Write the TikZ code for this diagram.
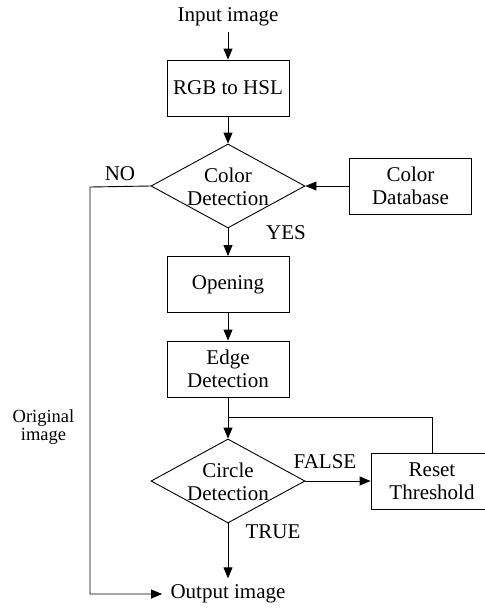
\documentclass[tikz,border=0pt]{standalone}
\usepackage{fontspec}
\setmainfont{Liberation Serif}
\usetikzlibrary{shapes.geometric,arrows.meta}
\newcommand{\flowfont}  {\fontsize{21}{23}\selectfont}
\newcommand{\sidefont}  {\fontsize{18.5}{16}\selectfont}

\begin{document}
\begin{tikzpicture}[x=1pt,y=-1pt,line width=0.9pt,
   every node/.style={font=\flowfont},
   block/.style={draw,minimum width=122pt,minimum height=56pt,align=center,inner sep=0pt},
   decision/.style={draw,diamond,minimum width=154pt,minimum height=84pt,inner sep=0pt},
   flow/.style={-{Triangle[length=11pt,width=9pt]}}]
   \useasboundingbox (0,0) rectangle (485,611);
   % main column
   \node[inner sep=5pt] (input) at (228,17) {Input image};
   \node[block] (rgb) at (228,88) {RGB to HSL};
   \node[decision] (cd) at (228,186) {};
   \node[align=center] (cdtext) at (228,187) {Color\\Detection};
   \node[block] (db) at (410.5,186) {Color\\Database};
   \node[block] (open) at (228,284.5) {Opening};
   \node[block] (edge) at (228,369) {Edge\\Detection};
   \coordinate (junc) at (228,417);
   \node[decision] (circ) at (228,481) {};
   \node[align=center] (circtext) at (228,482) {Circle\\Detection};
   \node[block] (reset) at (432,481) {Reset\\Threshold};
   \node[inner xsep=8pt,inner ysep=6pt] (out) at (228,594) {Output image};
   \coordinate (noturn) at (90,187);
   % labels
   \node (no) at (120,174) {NO};
   \node (yes) at (286,233) {YES};
   \node (false) at (325,462) {FALSE};
   \node (true) at (273,532) {TRUE};
   \node[align=center,font=\sidefont] (orig) at (43.5,427) {Original\\image};
   % connectors
   \draw[flow] (input) -- (rgb);
   \draw[flow] (rgb) -- (cd);
   \draw[flow] (db) -- (cd);
   \draw[flow] (cd) -- (open);
   \draw[flow] (open) -- (edge);
   \draw (edge) -- (junc);
   \draw[flow] (junc) -- (circ);
   \draw[flow] (circ) -- (reset);
   \draw (reset.north) |- (junc);
   \draw[flow] (circ) -- (out);
   \draw[flow] (cd.west) -- (noturn) |- (out.west);
\end{tikzpicture}
\end{document}
